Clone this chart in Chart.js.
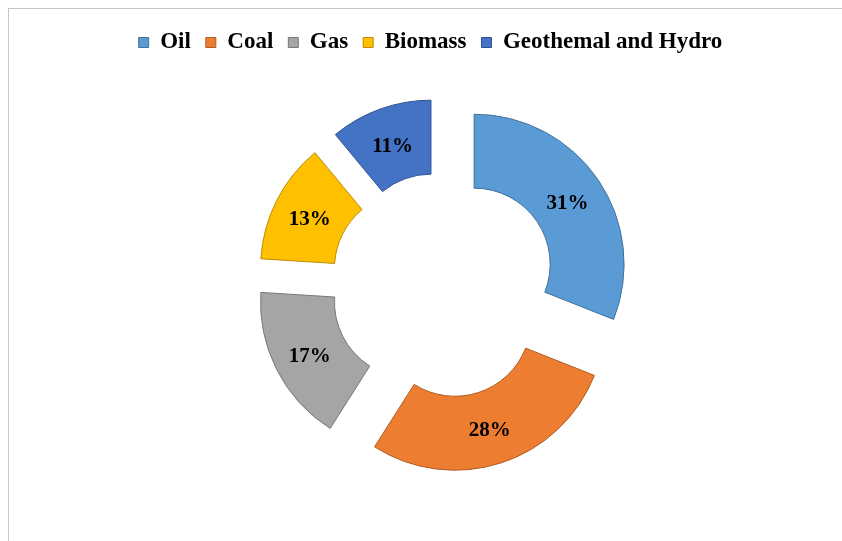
<!DOCTYPE html>
<html lang="en">
<head>
    <meta charset="UTF-8">
    <title>Energy Sources</title>
    <script src="https://cdn.jsdelivr.net/npm/chart.js"></script>
    <style>
        body {
            margin: 0;
            padding: 0;
            width: 842px;
            height: 541px;
            overflow: hidden;
            background-color: #ffffff;
            position: relative;
        }
        .frame {
            position: absolute;
            left: 8px;
            top: 8px;
            width: 900px;
            height: 600px;
            border-top: 1px solid #c6c6c6;
            border-left: 1px solid #c6c6c6;
        }
        canvas#energyChart {
            position: absolute;
            left: 0;
            top: 0;
        }
    </style>
</head>
<body>
    <div class="frame"></div>
    <canvas id="energyChart" width="842" height="541"></canvas>

    <script>
        const categories = ['Oil', 'Coal', 'Gas', 'Biomass', 'Geothemal and Hydro'];
        const shares = [31, 28, 17, 13, 11];
        const fillColors = ['#5b9bd5', '#ed7d31', '#a5a5a5', '#ffc000', '#4472c4'];
        const edgeColors = ['#41719c', '#ae5a21', '#787878', '#bc8c00', '#2f528f'];

        const serif = '"Liberation Serif", "Times New Roman", serif';
        const explode = 37;

        // push every slice outwards along its middle angle
        const explodeSlices = {
            id: 'explodeSlices',
            afterDatasetUpdate(chart, args) {
                args.meta.data.forEach(arc => {
                    const mid = (arc.startAngle + arc.endAngle) / 2;
                    arc.x += Math.cos(mid) * explode;
                    arc.y += Math.sin(mid) * explode;
                });
            }
        };

        // legend sits a little left of the doughnut centre
        const legendShift = {
            id: 'legendShift',
            afterLayout(chart) {
                chart.legend.left -= 13;
                chart.legend.right -= 13;
            }
        };

        const sliceLabels = {
            id: 'sliceLabels',
            afterDatasetsDraw(chart) {
                const ctx = chart.ctx;
                const meta = chart.getDatasetMeta(0);
                ctx.save();
                ctx.font = 'bold 21px ' + serif;
                ctx.fillStyle = '#000000';
                ctx.textAlign = 'center';
                ctx.textBaseline = 'middle';
                meta.data.forEach((arc, i) => {
                    const p = arc.getCenterPoint();
                    ctx.fillText(shares[i] + '%', p.x, p.y + 3);
                });
                ctx.restore();
            }
        };

        const ctx = document.getElementById('energyChart').getContext('2d');
        const energyChart = new Chart(ctx, {
            type: 'doughnut',
            data: {
                labels: categories,
                datasets: [{
                    data: shares,
                    backgroundColor: fillColors,
                    borderColor: edgeColors,
                    borderWidth: 1
                }]
            },
            options: {
                responsive: false,
                animation: false,
                events: [],
                radius: 150,
                cutout: '50.7%',
                layout: {
                    padding: { top: 16, bottom: 35, left: 45, right: 0 }
                },
                plugins: {
                    legend: {
                        position: 'top',
                        labels: {
                            color: '#000000',
                            boxWidth: 10,
                            boxHeight: 10,
                            padding: 15,
                            font: { family: serif, size: 23, weight: 'bold' }
                        }
                    },
                    tooltip: { enabled: false }
                }
            },
            plugins: [explodeSlices, legendShift, sliceLabels]
        });
    </script>
</body>
</html>
